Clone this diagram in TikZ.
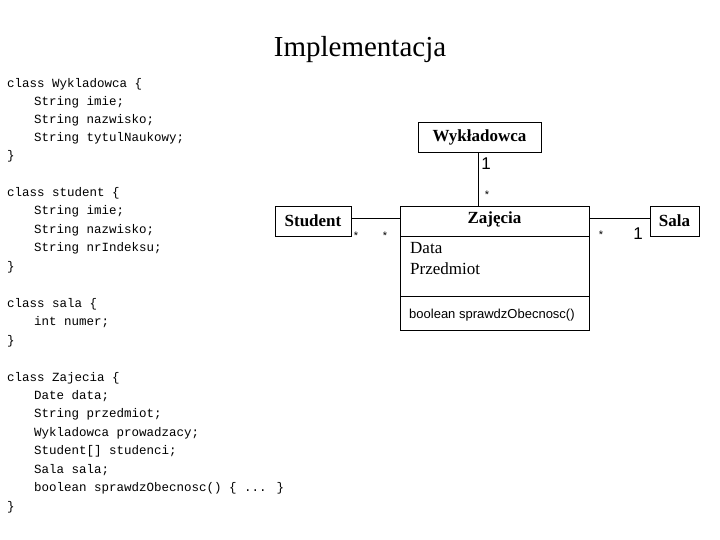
\documentclass[tikz,border=0pt]{standalone}
\usepackage{fontspec}
\setmainfont{Liberation Serif}
\newfontfamily\codefont{Liberation Mono}
\newfontfamily\arialfont{Liberation Sans}
\begin{document}
\begin{tikzpicture}[x=1pt,y=-1pt,
  code/.style={anchor=west,inner sep=0pt,font=\codefont\fontsize{12.5}{13}\selectfont},
  box/.style={draw,line width=0.8pt,inner sep=0pt,font=\bfseries\fontsize{17}{18}\selectfont},
  mult/.style={inner sep=0pt,font=\arialfont\fontsize{11}{12}\selectfont},
  one/.style={inner sep=0pt,font=\arialfont\fontsize{17}{18}\selectfont},
  lk/.style={line width=0.8pt}]
\useasboundingbox (0,0) rectangle (720,540);
\node[inner sep=0pt,font=\fontsize{29}{30}\selectfont] (title) at (360,50) {Implementacja};
\foreach \t/\xx/\yy [count=\i] in {
 {class Wykladowca \{}/7/84, {String imie;}/34/102, {String nazwisko;}/34/120, {String tytulNaukowy;}/34/138, {\}}/7/156,
 {class student \{}/7/193, {String imie;}/34/211, {String nazwisko;}/34/230, {String nrIndeksu;}/34/248, {\}}/7/267,
 {class sala \{}/7/304, {int numer;}/34/322, {\}}/7/341,
 {class Zajecia \{}/7/378, {Date data;}/34/396, {String przedmiot;}/34/414, {Wykladowca prowadzacy;}/34/433, {Student[] studenci;}/34/451, {Sala sala;}/34/470, {boolean sprawdzObecnosc() \{ ... \}}/34/488, {\}}/7/507}
 \node[code] (c\i) at (\xx,\yy) {\t};
% boxes
\node[box,minimum width=123pt,minimum height=30pt] (wyk) at (479.5,137) {Wykładowca};
\node[box,minimum width=76pt,minimum height=30pt] (stu) at (313,221) {Student};
\node[box,minimum width=49pt,minimum height=30pt] (sala) at (674.5,221) {Sala};
\node[draw,line width=0.8pt,minimum width=189pt,minimum height=124pt,inner sep=0pt] (zaj) at (494.5,268) {};
\node[inner sep=0pt,font=\bfseries\fontsize{17}{18}\selectfont] (zt) at (494.5,219) {Zajęcia};
\coordinate (d1l) at (400,236); \coordinate (d1r) at (589,236);
\coordinate (d2l) at (400,296); \coordinate (d2r) at (589,296);
\draw[lk] (d1l) -- (d1r);
\draw[lk] (d2l) -- (d2r);
\node[anchor=north west,inner sep=0pt,align=left,font=\fontsize{17}{21}\selectfont] (attr) at (410,242) {Data\\Przedmiot};
\node[anchor=west,inner sep=0pt,font=\arialfont\fontsize{13}{14}\selectfont] (meth) at (409,315) {boolean sprawdzObecnosc()};
% links
\coordinate (zw) at (400,218); \coordinate (ze) at (589,218); \coordinate (zn) at (478,206);
\draw[lk] (wyk.south -| zn) -- (zn);
\draw[lk] (stu.east |- zw) -- (zw);
\draw[lk] (ze) -- (sala.west |- ze);
\node[one] (m1) at (486,164) {1};
\node[mult] (m2) at (487,195) {*};
\node[mult] (m3) at (356,236) {*};
\node[mult] (m4) at (385,236) {*};
\node[mult] (m5) at (601,235) {*};
\node[one] (m6) at (638,234) {1};
\end{tikzpicture}
\end{document}
